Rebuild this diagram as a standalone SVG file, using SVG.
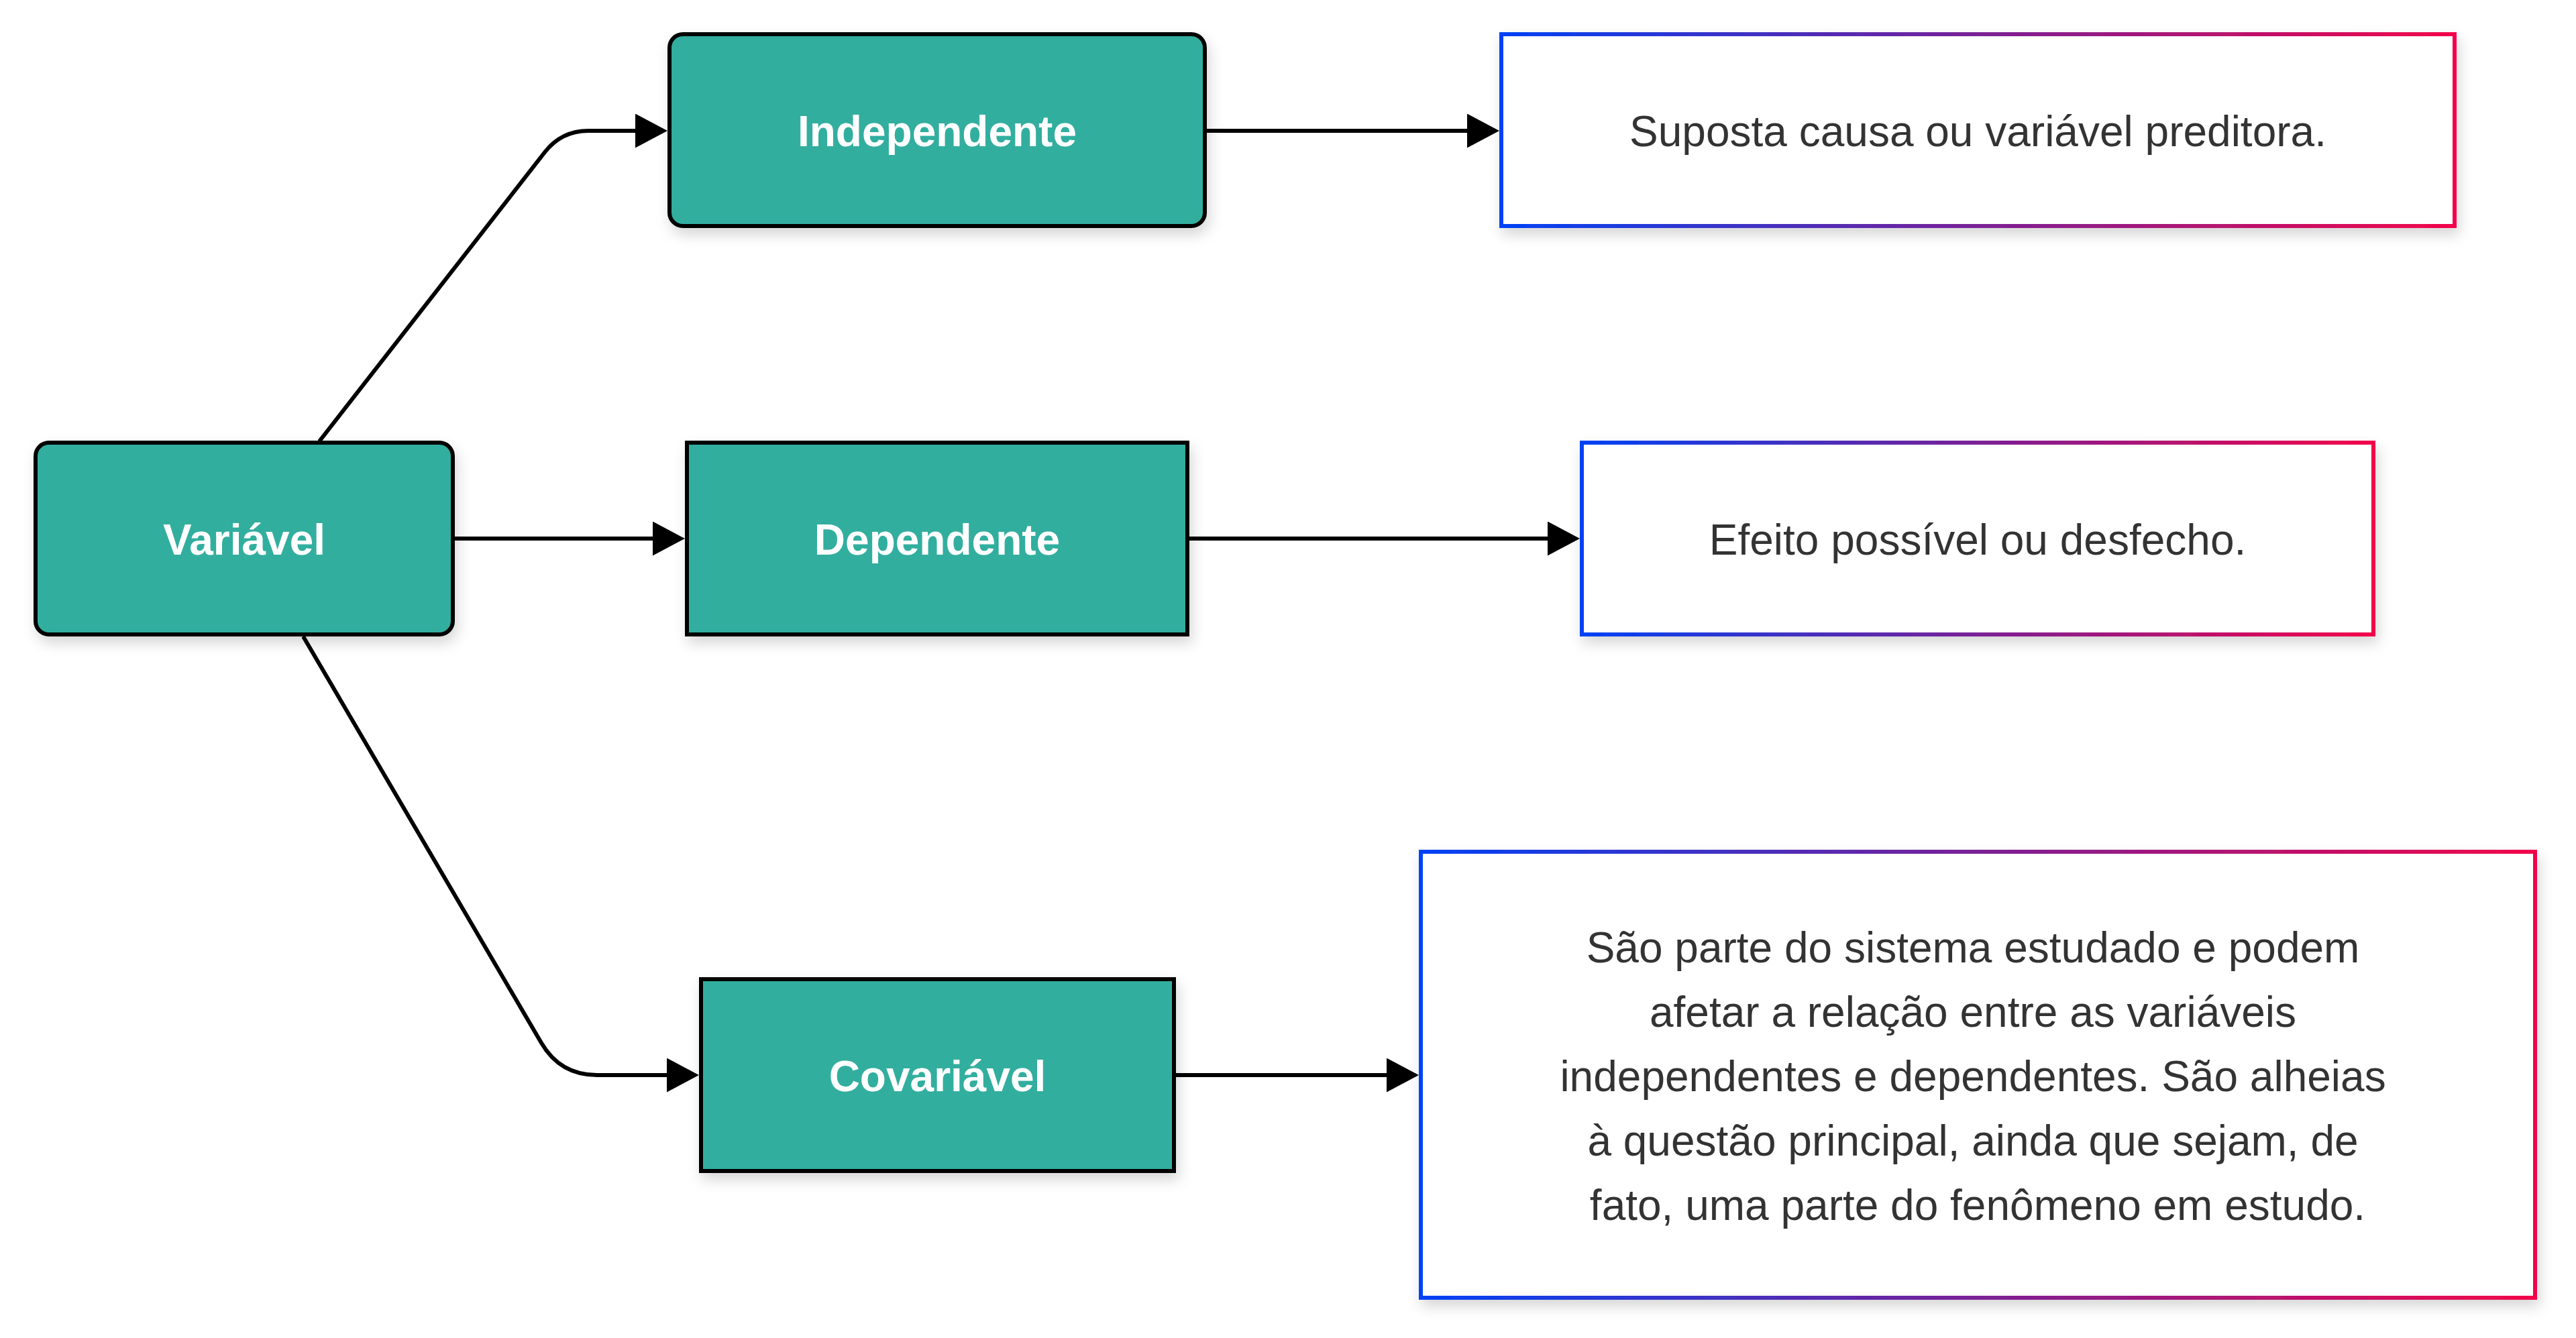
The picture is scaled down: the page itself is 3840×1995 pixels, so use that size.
<svg xmlns="http://www.w3.org/2000/svg" width="3840" height="1995" viewBox="0 0 3840 1995">
<style>
  .node rect { fill: #31ae9f; stroke: #000; stroke-width: 6; filter: url(#shadow); }
  .desc rect { fill: #fff; stroke-width: 6; filter: url(#shadow); }
  .lbl { font-family: "Liberation Sans", Arial, sans-serif; font-size: 64px; font-weight: bold; fill: #fff; text-anchor: middle; }
  .txt { font-family: "Liberation Sans", Arial, sans-serif; font-size: 64px; fill: #333; text-anchor: middle; }
  .edge { fill: none; stroke: #000; stroke-width: 6; marker-end: url(#arrow); }
</style>
<defs>
  <filter id="shadow" x="-10%" y="-20%" width="125%" height="150%">
    <feDropShadow dx="4" dy="10" stdDeviation="10" flood-color="#000" flood-opacity="0.16"/>
  </filter>
  <linearGradient id="g1" gradientUnits="objectBoundingBox" x1="0" y1="0" x2="1" y2="0">
    <stop offset="0" stop-color="#0042f5"/>
    <stop offset="0.5" stop-color="#7a2196"/>
    <stop offset="1" stop-color="#f2054a"/>
  </linearGradient>
  <marker id="arrow" markerUnits="userSpaceOnUse" markerWidth="50" markerHeight="54" refX="0" refY="25.5" orient="auto">
    <path d="M0,0 L48,25.5 L0,51 Z" fill="#000"/>
  </marker>
</defs>
<rect width="3840" height="1995" fill="#fff"/>

<g id="connectors">
  <path class="edge" d="M476,658 L812,227 Q837,195 877,195 L947,195"/>
  <path class="edge" d="M677,803 L973,803"/>
  <path class="edge" d="M452,949 L807,1555 Q835,1603 890,1603 L994,1603"/>
  <path class="edge" d="M1799,195 L2187,195"/>
  <path class="edge" d="M1773,803 L2307,803"/>
  <path class="edge" d="M1753,1603 L2067,1603"/>
</g>

<g id="node-variavel" class="node">
  <rect x="53" y="660" width="622" height="286" rx="20" ry="20"/>
  <text class="lbl" x="364" y="827">Variável</text>
</g>
<g id="node-independente" class="node">
  <rect x="998" y="51" width="798" height="286" rx="20" ry="20"/>
  <text class="lbl" x="1397" y="218">Independente</text>
</g>
<g id="node-dependente" class="node">
  <rect x="1024" y="660" width="746" height="286"/>
  <text class="lbl" x="1397" y="827">Dependente</text>
</g>
<g id="node-covariavel" class="node">
  <rect x="1045" y="1460" width="705" height="286"/>
  <text class="lbl" x="1397.5" y="1627">Covariável</text>
</g>

<g id="desc-independente" class="desc">
  <rect x="2238" y="51" width="1421" height="286" stroke="url(#g1)"/>
  <text class="txt" x="2948.5" y="218">Suposta causa ou variável preditora.</text>
</g>
<g id="desc-dependente" class="desc">
  <rect x="2358" y="660" width="1180" height="286" stroke="url(#g1)"/>
  <text class="txt" x="2948" y="827">Efeito possível ou desfecho.</text>
</g>
<g id="desc-covariavel" class="desc">
  <rect x="2118" y="1270" width="1661" height="665" stroke="url(#g1)"/>
  <text class="txt" x="2941" y="1435">São parte do sistema estudado e podem</text>
  <text class="txt" x="2941" y="1531">afetar a relação entre as variáveis</text>
  <text class="txt" x="2941" y="1627">independentes e dependentes. São alheias</text>
  <text class="txt" x="2941" y="1723">à questão principal, ainda que sejam, de</text>
  <text class="txt" x="2948" y="1819">fato, uma parte do fenômeno em estudo.</text>
</g>
</svg>
